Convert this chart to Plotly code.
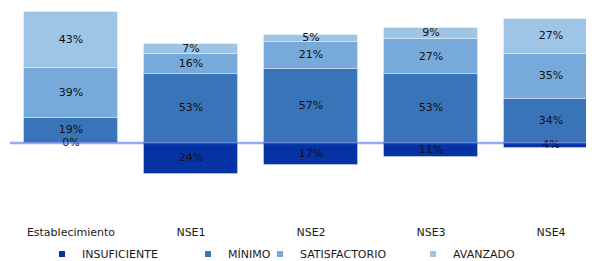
import plotly.graph_objects as go

categories = ["Establecimiento", "NSE1", "NSE2", "NSE3", "NSE4"]
insuficiente = [0, 24, 17, 11, 4]
minimo = [19, 53, 57, 53, 34]
satisfactorio = [39, 16, 21, 27, 35]
avanzado = [43, 7, 5, 9, 27]

series_names = ["INSUFICIENTE", "MÍNIMO", "SATISFACTORIO", "AVANZADO"]
colors = ["#0533A3", "#3A74B8", "#77A9DA", "#9EC5E5"]
FONT = "DejaVu Sans"

W, H = 586, 253  # page body has an 8px margin

fig = go.Figure()

# bars (INSUFICIENTE drawn below zero)
bar_values = [[-v for v in insuficiente], minimo, satisfactorio, avanzado]
for name, vals, col in zip(series_names, bar_values, colors):
    fig.add_trace(go.Bar(
        x=categories, y=vals, name=name, width=0.79,
        marker=dict(color=col, line=dict(color="rgba(255,255,255,0.35)", width=1)),
        showlegend=False, hoverinfo="skip",
    ))

# data labels at segment centres
label_x, label_y, label_t = [], [], []
for i, c in enumerate(categories):
    label_x.append(c); label_y.append(-insuficiente[i] / 2); label_t.append(f"{insuficiente[i]}%")
    base = 0
    for vals in (minimo, satisfactorio, avanzado):
        label_x.append(c); label_y.append(base + vals[i] / 2); label_t.append(f"{vals[i]}%")
        base += vals[i]
fig.add_trace(go.Scatter(
    x=label_x, y=label_y, text=label_t, mode="text",
    textfont=dict(family=FONT, size=11, color="#111111"),
    showlegend=False, hoverinfo="skip",
))

# legend entries (one legend per entry to reproduce spacing)
legend_ids = ["legend", "legend2", "legend3", "legend4"]
legend_x = [34, 180, 252, 405]
for name, col, lid in zip(series_names, colors, legend_ids):
    fig.add_trace(go.Scatter(
        x=[None], y=[None], mode="markers", name=name, legend=lid,
        marker=dict(symbol="square", size=6, color=col),
    ))

legend_common = dict(
    orientation="h", xref="container", yref="container",
    xanchor="left", yanchor="middle", y=1 - 246 / H,
    font=dict(family=FONT, size=11, color="#1a1a1a"),
    bgcolor="rgba(0,0,0,0)", borderwidth=0,
)
legend_layout = {}
for lid, lx in zip(legend_ids, legend_x):
    legend_layout[lid] = dict(legend_common, x=lx / W)

fig.add_shape(
    type="line", xref="paper", yref="y", x0=0, x1=1, y0=0, y1=0,
    line=dict(color="rgba(60,100,235,0.55)", width=2.5), layer="above",
)

fig.update_layout(
    width=W, height=H,
    margin=dict(l=2, r=0, t=0, b=37),
    barmode="relative", bargap=0,
    plot_bgcolor="white", paper_bgcolor="white",
    font=dict(family=FONT, size=11, color="#1a1a1a"),
    xaxis=dict(range=[-0.508, 4.358], showgrid=False, zeroline=False,
               showline=False, ticks="", tickfont=dict(family=FONT, size=11, color="#1a1a1a")),
    yaxis=dict(range=[-62.45, 104.1], visible=False, showgrid=False, zeroline=False),
    **legend_layout,
)

fig.write_html("out.html")
